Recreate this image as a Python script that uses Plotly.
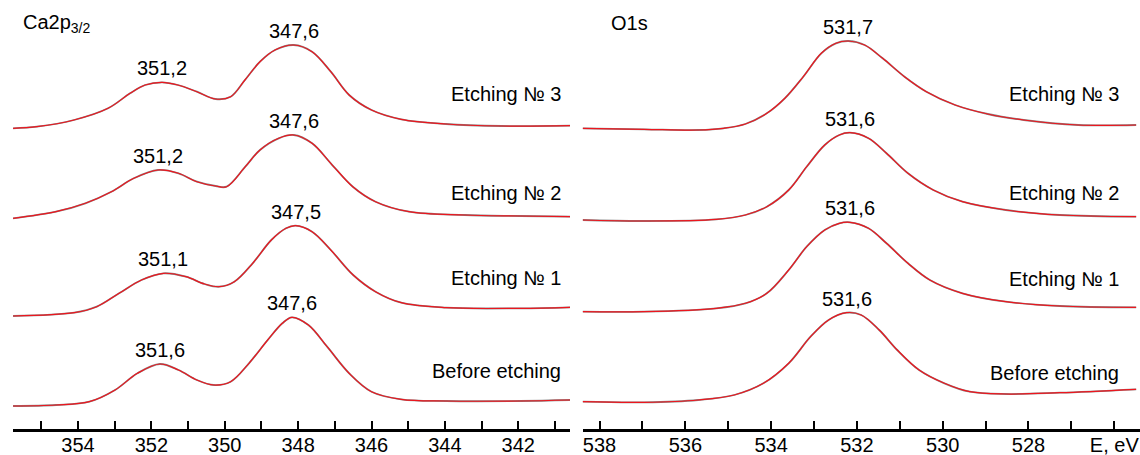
import plotly.graph_objects as go

# ---------------- DATA ----------------
SAMPLES = ["Etching № 3", "Etching № 2", "Etching № 1", "Before etching"]

# Ca2p3/2 region: binding energy (eV) and intensity (a.u.)
CA_E3_EV = [355.77, 355.12, 354.11, 353.18, 352.58, 352.17, 351.71, 351.28, 350.76, 350.25, 349.84, 349.45,
            349.04, 348.63, 348.12, 347.62, 347.11, 346.61, 346.00, 345.19, 343.97, 342.45, 340.58]
CA_E3_I = [0.7, 2.3, 9, 20.7, 35.7, 44, 46.7, 44, 37.3, 30, 32.3, 49,
           67.3, 79, 84, 77.3, 57.3, 34, 19, 9.7, 5, 3, 3.3]

CA_E2_EV = [355.77, 354.60, 353.80, 353.09, 352.48, 351.82, 351.26, 350.76, 350.25, 349.95, 349.44,
            349.04, 348.53, 348.12, 347.62, 347.11, 346.51, 345.89, 344.98, 343.46, 341.95, 340.58]
CA_E2_I = [0.7, 7.3, 15.7, 27.3, 40.7, 49, 45.7, 37.3, 33, 32.3, 52.3,
           69, 80.7, 84, 75.7, 55.7, 32.3, 17.3, 7.3, 4, 3, 2.3]

CA_E1_EV = [355.77, 354.10, 353.49, 352.88, 352.27, 351.67, 351.06, 350.55, 350.15, 349.74, 349.24,
            348.73, 348.33, 348.07, 347.62, 347.11, 346.50, 345.89, 345.19, 343.97, 341.95, 340.58]
CA_E1_I = [0, 3.3, 9.3, 22.7, 36, 42.7, 39.3, 32, 29.3, 34.3, 52.7,
           76, 87.7, 90.3, 84.3, 66, 41, 24.3, 13.3, 8.3, 7.7, 8.7]

CA_BE_EV = [355.77, 354.60, 353.69, 352.99, 352.38, 351.77, 351.26, 350.76, 350.30, 349.84, 349.34,
            348.83, 348.43, 348.17, 347.72, 347.21, 346.61, 346.00, 345.19, 343.97, 341.95, 340.58]
CA_BE_I = [0, 1, 4.3, 16, 32.7, 42, 36, 26, 21, 24.3, 42.7,
           66, 82.7, 88.7, 81, 59.3, 32.7, 14.3, 6.7, 5, 5, 6]

# O1s region
O_E3_EV = [538.40, 536.96, 535.70, 535.11, 534.60, 534.10, 533.68, 533.25, 532.83, 532.49, 532.20,
           531.82, 531.40, 530.89, 530.38, 529.71, 528.95, 528.11, 526.84, 525.49]
O_E3_I = [2.7, 1.7, 1, 2.7, 7, 17.7, 32.7, 54.3, 77.7, 87.7, 90,
          86, 72.7, 54.3, 39.3, 26, 17, 11, 6, 6]

O_E2_EV = [538.40, 536.96, 535.28, 534.60, 534.10, 533.59, 533.17, 532.75, 532.41, 532.16,
           531.73, 531.31, 530.81, 530.22, 529.54, 528.53, 527.27, 525.49]
O_E2_I = [1, 0, 1.7, 6, 14.3, 31, 54.3, 76, 86, 88.3,
          82.7, 67.7, 47.7, 31, 19.3, 11, 6, 4.3]

O_E1_EV = [538.40, 536.96, 535.28, 534.60, 534.10, 533.59, 533.17, 532.75, 532.41, 532.16,
           531.73, 531.31, 530.81, 530.30, 529.54, 528.53, 527.27, 525.49]
O_E1_I = [0.3, 0.3, 3.7, 8.7, 18.7, 42, 65.3, 82, 88.7, 89.7,
          83.7, 68.7, 48.7, 32, 18.7, 10.3, 6, 4.7]

O_BE_EV = [538.40, 536.96, 535.70, 534.86, 534.18, 533.59, 533.08, 532.66, 532.24, 531.90,
           531.48, 531.06, 530.55, 529.96, 529.37, 528.53, 527.27, 525.49]
O_BE_I = [1.3, 0.7, 3, 8, 19.7, 39.7, 66.3, 83, 90.3, 88,
          73, 53, 33, 19.7, 11.3, 9, 10.3, 13.7]

# peak-position labels (as printed on the chart)
CA_MAIN_LABELS = ["347,6", "347,6", "347,5", "347,6"]
CA_SIDE_LABELS = ["351,2", "351,2", "351,1", "351,6"]
O_LABELS = ["531,7", "531,6", "531,6", "531,6"]

CA_TICKS = list(range(341, 356))
O_TICKS = list(range(526, 539))

# ---------------- LAYOUT CONSTANTS ----------------
W, H = 1140, 455
PLOT_H = 429            # plot area height in px (1 y-unit = 1 px)
CA_OFFSETS = [300, 210, 113, 23]
O_OFFSETS = [298, 208, 117, 26]
CA_RANGE = [355.78, 340.59]
O_RANGE = [538.39, 525.40]
FONT = "Liberation Sans, Arial, sans-serif"
RED = "rgb(236,22,30)"
DARK = "rgba(40,40,40,0.55)"
LABEL_GAP = 14
SAMPLE_LABEL_Y_LEFT = [94, 192.5, 278, 371]
SAMPLE_LABEL_Y_RIGHT = [94, 192.5, 279, 373]

ca_series = [(CA_E3_EV, CA_E3_I), (CA_E2_EV, CA_E2_I), (CA_E1_EV, CA_E1_I), (CA_BE_EV, CA_BE_I)]
o_series = [(O_E3_EV, O_E3_I), (O_E2_EV, O_E2_I), (O_E1_EV, O_E1_I), (O_BE_EV, O_BE_I)]

fig = go.Figure()
annotations = []


def add_spectrum(ev, inten, off, xa, ya, name):
    y = [v + off for v in inten]
    fig.add_trace(go.Scatter(x=ev, y=y, mode="lines",
                             line=dict(color=DARK, width=1.8, shape="spline", smoothing=1.0),
                             xaxis=xa, yaxis=ya, showlegend=False, hoverinfo="skip"))
    fig.add_trace(go.Scatter(x=ev, y=y, mode="lines",
                             line=dict(color=RED, width=1.2, shape="spline", smoothing=1.0),
                             xaxis=xa, yaxis=ya, name=name, showlegend=False))


def peak_label(ev, inten, off, text, xref, yref, cond):
    pts = [(e, v) for e, v in zip(ev, inten) if cond(e)]
    e, v = max(pts, key=lambda p: p[1])
    annotations.append(dict(x=e, y=v + off + LABEL_GAP, xref=xref, yref=yref, text=text,
                            showarrow=False, xanchor="center", yanchor="middle",
                            font=dict(family=FONT, size=20, color="black")))


for i, (ev, inten) in enumerate(ca_series):
    add_spectrum(ev, inten, CA_OFFSETS[i], "x", "y", SAMPLES[i])
    peak_label(ev, inten, CA_OFFSETS[i], CA_MAIN_LABELS[i], "x", "y", lambda e: e < 349.5)
    peak_label(ev, inten, CA_OFFSETS[i], CA_SIDE_LABELS[i], "x", "y", lambda e: e > 350.6)
    annotations.append(dict(x=563 / W, y=PLOT_H - SAMPLE_LABEL_Y_LEFT[i], xref="paper", yref="y",
                            text=SAMPLES[i], showarrow=False, xanchor="right", yanchor="middle",
                            font=dict(family=FONT, size=20, color="black")))

for i, (ev, inten) in enumerate(o_series):
    add_spectrum(ev, inten, O_OFFSETS[i], "x2", "y2", SAMPLES[i])
    peak_label(ev, inten, O_OFFSETS[i], O_LABELS[i], "x2", "y2", lambda e: True)
    annotations.append(dict(x=1121 / W, y=PLOT_H - SAMPLE_LABEL_Y_RIGHT[i], xref="paper", yref="y2",
                            text=SAMPLES[i], showarrow=False, xanchor="right", yanchor="middle",
                            font=dict(family=FONT, size=20, color="black")))

annotations.append(dict(x=21 / W, y=PLOT_H - 23, xref="paper", yref="y", text="Ca2p<sub>3/2</sub>",
                        showarrow=False, xanchor="left", yanchor="middle",
                        font=dict(family=FONT, size=20, color="black")))
annotations.append(dict(x=609 / W, y=PLOT_H - 23, xref="paper", yref="y", text="O1s",
                        showarrow=False, xanchor="left", yanchor="middle",
                        font=dict(family=FONT, size=20, color="black")))

ca_text = [str(t) if t % 2 == 0 else " " for t in CA_TICKS]
o_text = [("E, eV" if t == 526 else str(t)) if t % 2 == 0 else " " for t in O_TICKS]

axis_common = dict(showline=True, linecolor="black", linewidth=2.5, ticks="inside", ticklen=8,
                   tickwidth=2, tickcolor="black", showgrid=False, zeroline=False,
                   tickfont=dict(family=FONT, size=20, color="black"), tickmode="array",
                   ticklabelstandoff=-4, automargin=False)

fig.update_layout(
    width=W, height=H,
    margin=dict(l=0, r=0, t=0, b=H - PLOT_H, autoexpand=False),
    paper_bgcolor="white", plot_bgcolor="white",
    xaxis=dict(domain=[12.7 / W, 570 / W], range=CA_RANGE, tickvals=CA_TICKS, ticktext=ca_text,
               anchor="y", **axis_common),
    xaxis2=dict(domain=[582.8 / W, 1.0], range=O_RANGE, tickvals=O_TICKS, ticktext=o_text,
                anchor="y2", **axis_common),
    yaxis=dict(domain=[0, 1], range=[0, PLOT_H], visible=False, anchor="x"),
    yaxis2=dict(domain=[0, 1], range=[0, PLOT_H], visible=False, anchor="x2"),
    annotations=annotations,
    showlegend=False,
)

fig.write_html("out.html", config={"displayModeBar": False},
               post_script="document.body.style.margin='0';document.body.style.overflow='hidden';")
